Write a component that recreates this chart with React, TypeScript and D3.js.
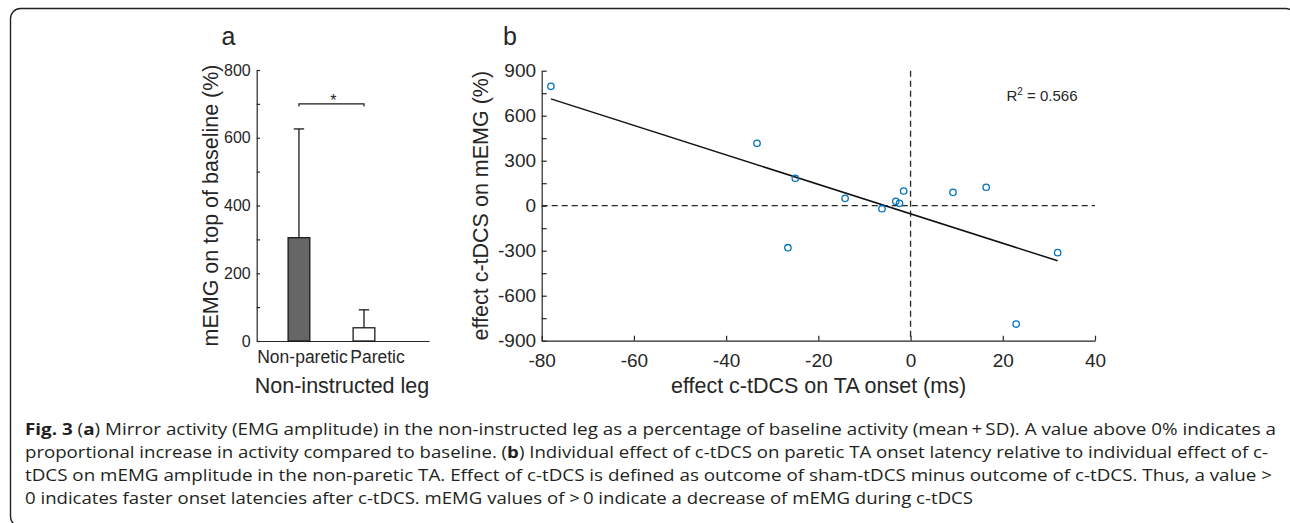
import { useRef, useEffect } from 'react';
import * as d3 from 'd3';

// panel a: mirror activity, mean + SD
const legLabels = ['Non-paretic', 'Paretic'];
const memgMean = [305, 39];
const memgSD = [321, 53];
const sigLevel = 700;
const barYTicks = d3.range(0, 801, 100);

// panel b: individual effects (one point per subject)
const effectOnset = [-78.0, -33.3, -25.0, -14.2, -6.2, -26.6, -3.2, -2.4, -1.5, 9.2, 16.4, 31.9, 22.9];
const effectMemg = [796, 416, 183, 49, -20, -280, 29, 16, 98, 89, 123, -313, -789];
const fitSlope = -9.82;
const fitIntercept = -54;
const rSquared = 0.566;
const scatterXTicks = [-80, -60, -40, -20, 0, 20, 40];
const scatterYTicks = d3.range(-900, 901, 150);

const captionLines = [
  [['Fig. 3', true], [' (', false], ['a', true], [') Mirror activity (EMG amplitude) in the non-instructed leg as a percentage of baseline activity (mean\u2009+\u2009SD). A value above 0% indicates a', false]],
  [['proportional increase in activity compared to baseline. (', false], ['b', true], [') Individual effect of c-tDCS on paretic TA onset latency relative to individual effect of c-', false]],
  [['tDCS on mEMG amplitude in the non-paretic TA. Effect of c-tDCS is defined as outcome of sham-tDCS minus outcome of c-tDCS. Thus, a value >', false]],
  [['0 indicates faster onset latencies after c-tDCS. mEMG values of >\u20090 indicate a decrease of mEMG during c-tDCS', false]],
];
const captionWidths = [1251, 1243, 1247, 948];

const FONT = 'Liberation Sans, Arial, sans-serif';
const INK = '#262626';

const App = () => {
  const svgRef = useRef(null);

  useEffect(() => {
    const svg = d3.select(svgRef.current);
    svg.selectAll('*').remove();

    // frame
    svg.append('rect')
      .attr('x', 10.5).attr('y', 8.5)
      .attr('width', 1285).attr('height', 518)
      .attr('rx', 10)
      .attr('fill', 'none')
      .attr('stroke', '#222')
      .attr('stroke-width', 1.4);

    // ---------- panel a ----------
    const xA = d3.scaleLinear([0.35, 3.0], [256.7, 429]);
    const yA = d3.scaleLinear([0, 800], [341, 70]);
    const ga = svg.append('g').attr('font-family', FONT);

    ga.append('g')
      .attr('transform', `translate(${xA(0.35)},0)`)
      .call(d3.axisLeft(yA).tickValues(barYTicks)
        .tickFormat((d) => (d % 200 === 0 ? `${d}` : ''))
        .tickSizeInner(-3.3).tickSizeOuter(0).tickPadding(6))
      .call((g) => g.selectAll('path, line').attr('stroke', INK).attr('stroke-width', 1.2))
      .call((g) => g.selectAll('text').attr('font-size', 16).attr('font-family', FONT).attr('fill', INK));

    // category labels sit a little right of the bars in the original
    const labelShift = [3, 13];
    ga.append('g')
      .attr('transform', `translate(0,${yA(0)})`)
      .call(d3.axisBottom(xA).tickValues([1, 2])
        .tickFormat((d) => legLabels[d - 1])
        .tickSize(0).tickPadding(0))
      .call((g) => g.select('.domain').attr('stroke', INK).attr('stroke-width', 1.2))
      .call((g) => g.selectAll('text').attr('font-size', 17.5).attr('font-family', FONT)
        .attr('fill', INK).attr('dy', null).attr('y', 22.3)
        .attr('dx', (_, i) => labelShift[i]));

    const barW = 0.334;
    ga.selectAll('rect.bar')
      .data(memgMean)
      .join('rect')
      .attr('class', 'bar')
      .attr('x', (_, i) => xA(i + 1 - barW / 2))
      .attr('width', xA(1 + barW / 2) - xA(1 - barW / 2))
      .attr('y', (d) => yA(d))
      .attr('height', (d) => yA(0) - yA(d))
      .attr('fill', (_, i) => (i === 0 ? '#666666' : '#ffffff'))
      .attr('stroke', '#1a1a1a')
      .attr('stroke-width', 1.3);

    const capW = 0.08;
    memgMean.forEach((m, i) => {
      const top = m + memgSD[i];
      ga.append('line')
        .attr('x1', xA(i + 1)).attr('x2', xA(i + 1))
        .attr('y1', yA(m)).attr('y2', yA(top))
        .attr('stroke', '#1a1a1a').attr('stroke-width', 1.3);
      ga.append('line')
        .attr('x1', xA(i + 1 - capW)).attr('x2', xA(i + 1 + capW))
        .attr('y1', yA(top)).attr('y2', yA(top))
        .attr('stroke', '#1a1a1a').attr('stroke-width', 1.3);
    });

    // significance bracket
    ga.append('path')
      .attr('d', `M${xA(1)},${yA(sigLevel - 8)}V${yA(sigLevel)}H${xA(2)}V${yA(sigLevel - 8)}`)
      .attr('fill', 'none')
      .attr('stroke', '#1a1a1a')
      .attr('stroke-width', 1.2);
    ga.append('text')
      .attr('x', xA(1.5) + 2)
      .attr('y', yA(sigLevel) + 2.5)
      .attr('text-anchor', 'middle')
      .attr('font-size', 16)
      .attr('fill', INK)
      .text('*');

    ga.append('text')
      .attr('transform', `translate(218,${(yA(0) + yA(800)) / 2}) rotate(-90)`)
      .attr('text-anchor', 'middle')
      .attr('font-size', 21.5)
      .attr('fill', INK)
      .text('mEMG on top of baseline (%)');
    ga.append('text')
      .attr('x', 342).attr('y', 392.5)
      .attr('text-anchor', 'middle')
      .attr('font-size', 21.5)
      .attr('fill', INK)
      .text('Non-instructed leg');
    ga.append('text')
      .attr('x', 221.5).attr('y', 45)
      .attr('font-size', 25)
      .attr('fill', INK)
      .text('a');

    // ---------- panel b ----------
    const xB = d3.scaleLinear([-80, 40], [541.7, 1095]);
    const yB = d3.scaleLinear([-900, 900], [340.7, 70.7]);
    const gb = svg.append('g').attr('font-family', FONT);

    gb.append('g')
      .attr('transform', `translate(${xB(-80)},0)`)
      .call(d3.axisLeft(yB).tickValues(scatterYTicks)
        .tickFormat((d) => (d % 300 === 0 ? `${d}` : ''))
        .tickSizeInner(-5).tickSizeOuter(0).tickPadding(5.7))
      .call((g) => g.selectAll('path, line').attr('stroke', INK).attr('stroke-width', 1.2))
      .call((g) => g.selectAll('text').attr('font-size', 19).attr('font-family', FONT).attr('fill', INK));

    gb.append('g')
      .attr('transform', `translate(0,${yB(-900)})`)
      .call(d3.axisBottom(xB).tickValues(scatterXTicks)
        .tickFormat((d) => `${d}`)
        .tickSizeInner(-5).tickSizeOuter(0).tickPadding(0))
      .call((g) => g.selectAll('path, line').attr('stroke', INK).attr('stroke-width', 1.2))
      .call((g) => g.selectAll('text').attr('font-size', 19).attr('font-family', FONT)
        .attr('fill', INK).attr('dy', null).attr('y', 26));

    // zero reference lines
    gb.append('line')
      .attr('x1', xB(-80)).attr('x2', xB(40))
      .attr('y1', yB(0)).attr('y2', yB(0))
      .attr('stroke', INK).attr('stroke-width', 1.3).attr('stroke-dasharray', '6,4');
    gb.append('line')
      .attr('x1', xB(0)).attr('x2', xB(0))
      .attr('y1', yB(900)).attr('y2', yB(-900))
      .attr('stroke', INK).attr('stroke-width', 1.3).attr('stroke-dasharray', '6,4');

    // regression line over the data range
    const [xmin, xmax] = d3.extent(effectOnset);
    const fitLine = d3.line()
      .x((d) => xB(d))
      .y((d) => yB(fitIntercept + fitSlope * d));
    gb.append('path')
      .attr('d', fitLine([xmin, xmax]))
      .attr('fill', 'none')
      .attr('stroke', '#111')
      .attr('stroke-width', 1.5);

    gb.selectAll('circle')
      .data(effectOnset)
      .join('circle')
      .attr('cx', (d) => xB(d))
      .attr('cy', (_, i) => yB(effectMemg[i]))
      .attr('r', 3.2)
      .attr('fill', 'none')
      .attr('stroke', '#0072BD')
      .attr('stroke-width', 1.3);

    const r2 = gb.append('text')
      .attr('x', 1006.5).attr('y', 100.5)
      .attr('font-size', 15)
      .attr('fill', INK);
    r2.append('tspan').text('R');
    r2.append('tspan').attr('font-size', 10).attr('dy', -6).text('2');
    r2.append('tspan').attr('dy', 6).text(` = ${rSquared}`);

    gb.append('text')
      .attr('transform', `translate(488,${yB(0)}) rotate(-90)`)
      .attr('text-anchor', 'middle')
      .attr('font-size', 21.5)
      .attr('fill', INK)
      .text('effect c-tDCS on mEMG (%)');
    gb.append('text')
      .attr('x', 818.5).attr('y', 392.5)
      .attr('text-anchor', 'middle')
      .attr('font-size', 21.5)
      .attr('fill', INK)
      .text('effect c-tDCS on TA onset (ms)');
    gb.append('text')
      .attr('x', 503).attr('y', 45)
      .attr('font-size', 25)
      .attr('fill', INK)
      .text('b');

    // ---------- caption ----------
    const cap = svg.append('g')
      .attr('font-family', 'Open Sans, sans-serif')
      .attr('font-size', 16)
      .attr('fill', '#231f20');
    captionLines.forEach((parts, i) => {
      const t = cap.append('text')
        .attr('x', 25)
        .attr('y', 435 + i * 23)
        .attr('textLength', captionWidths[i])
        .attr('lengthAdjust', 'spacingAndGlyphs');
      parts.forEach(([s, bold]) => {
        t.append('tspan').attr('font-weight', bold ? 700 : 400).text(s);
      });
    });
  }, []);

  return (
    <svg
      ref={svgRef}
      width={1290}
      height={523}
      style={{ position: 'absolute', left: 0, top: 0, background: '#fff' }}
    />
  );
};

export default App;
